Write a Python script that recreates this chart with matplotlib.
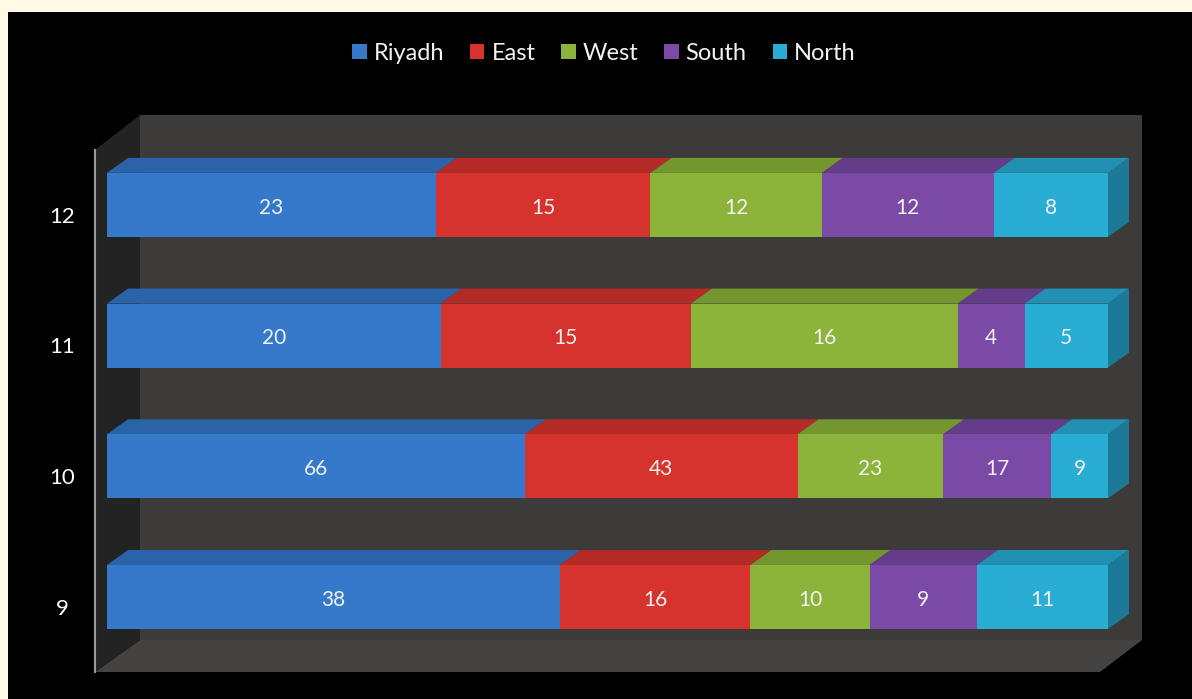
import matplotlib
matplotlib.use('Agg')
import matplotlib.pyplot as plt
from matplotlib.patches import Polygon, Rectangle, Patch
import numpy as np

# ---------------------------------------------------------------------------
# Data
# ---------------------------------------------------------------------------
rows = ['9', '10', '11', '12']
series = ['Riyadh', 'East', 'West', 'South', 'North']
riyadh = [38, 66, 20, 23]
east = [16, 43, 15, 15]
west = [10, 23, 16, 12]
south = [9, 17, 4, 12]
north = [11, 9, 5, 8]

colors = ['#3579CB', '#D6332E', '#8DB43A', '#7B4AA6', '#2AADD5']
top_colors = ['#2B63A9', '#B42A26', '#74962E', '#643C8A', '#2190B2']
side_colors = ['#24528D', '#962320', '#5F7C25', '#523172', '#1C7A98']

W, H = 1192, 699
fig = plt.figure(figsize=(W / 100, H / 100), dpi=100)
fig.patch.set_facecolor('#FFF9E6')
fig.patches.append(Rectangle((8 / W, 0), 1, 1 - 12 / H, transform=fig.transFigure,
                             facecolor='black', edgecolor='none', zorder=-5))

# axes: x share 0..1 spans px 107..1108, rows 1 unit = 130.7 px
unit = 130.7
y_bot_px = 597 + 0.5 * unit
ax = fig.add_axes([107 / W, (H - y_bot_px) / H, 1001 / W, 4 * unit / H])
ax.set_xlim(0, 1)
ax.set_ylim(-0.5, 3.5)
ax.axis('off')


def px(xp, yp):
    return ((xp - 107) / 1001, (597 - yp) / unit)


# 3D box: back wall, floor, left wall
wall = '#3D3B3A'
ax.add_patch(Polygon([px(140, 115), px(1142, 115), px(1142, 640), px(140, 640)],
                     closed=True, facecolor=wall, edgecolor='none', clip_on=False, zorder=1))
ax.add_patch(Polygon([px(95, 672), px(1100, 672), px(1142, 640), px(140, 640)],
                     closed=True, facecolor='#454341', edgecolor='none', clip_on=False, zorder=1))
ax.add_patch(Polygon([px(95, 150), px(140, 115), px(140, 640), px(95, 672)],
                     closed=True, facecolor='#232323', edgecolor='none', clip_on=False, zorder=1))
x0, y0 = px(95, 150)
x1, y1 = px(95, 672)
ax.plot([x0, x1], [y0, y1], color='#9A9A9A', lw=1.5, clip_on=False, zorder=2)

# ---------------------------------------------------------------------------
# 100% stacked bars with pseudo-3D faces
# ---------------------------------------------------------------------------
data = np.array([riyadh, east, west, south, north], dtype=float)
shares = data / data.sum(axis=0)
ypos = np.arange(len(rows))
bar_h = 0.49
dx, dy = 21 / 1001, 15 / unit

left = np.zeros(len(rows))
for i, name in enumerate(series):
    ax.barh(ypos, shares[i], left=left, height=bar_h, color=colors[i],
            edgecolor='none', zorder=4)
    for j, y in enumerate(ypos):
        a, b = left[j], left[j] + shares[i][j]
        top = y + bar_h / 2
        ax.add_patch(Polygon([(a, top), (b, top), (b + dx, top + dy), (a + dx, top + dy)],
                             closed=True, facecolor=top_colors[i], edgecolor='none',
                             clip_on=False, zorder=3))
        if i == len(series) - 1:
            bot = y - bar_h / 2
            ax.add_patch(Polygon([(b, bot), (b, top), (b + dx, top + dy), (b + dx, bot + dy)],
                                 closed=True, facecolor=side_colors[i], edgecolor='none',
                                 clip_on=False, zorder=3))
        ax.text((a + b) / 2, y - 0.02, f'{int(data[i][j])}', ha='center', va='center',
                color='#F2F2F2', fontsize=15, family='Lato', zorder=5)
    left += shares[i]

# category labels
for j, y in enumerate(ypos):
    ax.text(-0.045, y - 0.09, rows[j], ha='center', va='center', color='white',
            fontsize=16, family='Lato', clip_on=False)

handles = [Patch(facecolor=c, edgecolor='none', label=s) for s, c in zip(series, colors)]
fig.legend(handles=handles, loc='center', bbox_to_anchor=(604 / W, 1 - 53 / H), ncol=5,
           frameon=False, labelcolor='#F2F2F2', prop={'family': 'Lato', 'size': 17},
           handlelength=0.6, handleheight=0.6, handletextpad=0.3, columnspacing=1.1)

fig.savefig('out.png', dpi=100, facecolor=fig.get_facecolor())
